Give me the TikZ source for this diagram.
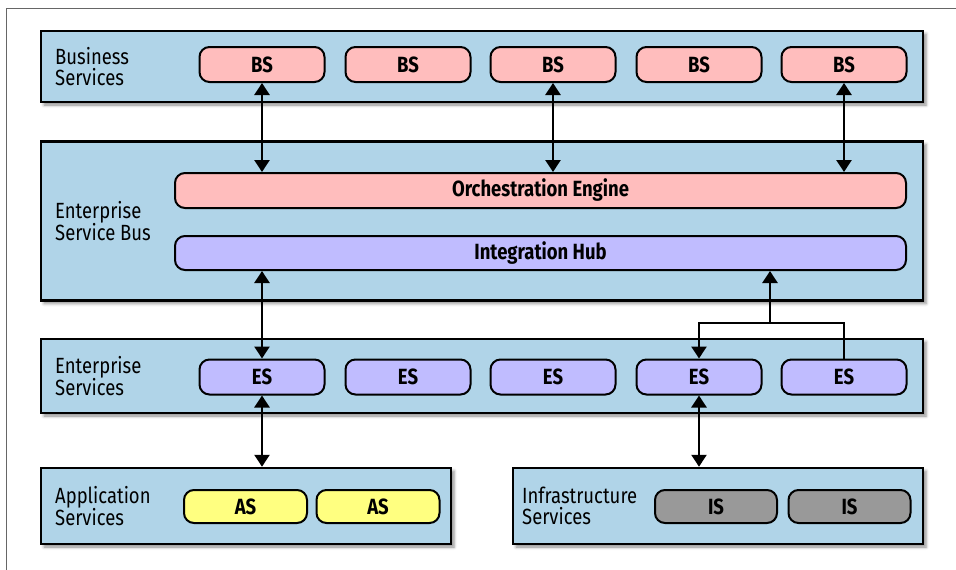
\documentclass[tikz,border=0pt]{standalone}
\usepackage{fontspec}
\setmainfont{Fira Sans}[FakeStretch=0.84]
\usetikzlibrary{arrows.meta,positioning,shadows.blur}

\definecolor{layerblue}{RGB}{176,212,232}
\definecolor{bspink}{RGB}{255,189,189}
\definecolor{eslilac}{RGB}{192,188,255}
\definecolor{asyellow}{RGB}{255,255,128}
\definecolor{isgray}{RGB}{153,153,153}

\begin{document}
\begin{tikzpicture}[
  x=1pt, y=-1pt,
  layer/.style={draw, line width=2.5pt, fill=layerblue, inner sep=0pt,
    blur shadow={shadow xshift=3pt, shadow yshift=-3pt, shadow blur radius=3pt, shadow opacity=45}},
  layertext/.style={anchor=west, align=left, inner sep=0pt, font=\fontsize{22}{21.5}\selectfont},
  svc/.style={draw, line width=2pt, rounded corners=10pt, minimum width=125pt, minimum height=35pt,
    inner sep=0pt, font=\fontsize{22}{22}\bfseries},
  bsbox/.style={svc, fill=bspink},
  esbox/.style={svc, fill=eslilac},
  asbox/.style={svc, fill=asyellow, minimum width=123pt, minimum height=33pt},
  isbox/.style={svc, fill=isgray, minimum width=122pt, minimum height=33pt},
  tip/.style={line width=2.5pt},
  arrow/.style={tip, -{Triangle[length=12pt,width=15pt]}},
  twoway/.style={tip, {Triangle[length=12pt,width=15pt]}-{Triangle[length=12pt,width=15pt]}},
  frame/.style={draw=black!60, line width=1pt}
]
\useasboundingbox (0,0) rectangle (956,570);
\draw[frame] (6,570) -- (6,8.5) -- (956,8.5);

% layers
\node[layer, minimum width=882pt, minimum height=71pt] (bsl) at (482,66.5) {};
\node[layer, minimum width=882pt, minimum height=159pt] (esb) at (482,221) {};
\node[layer, minimum width=882pt, minimum height=74pt] (esl) at (482,376) {};
\node[layer, minimum width=410pt, minimum height=76pt] (asl) at (246,506) {};
\node[layer, minimum width=410pt, minimum height=76pt] (isl) at (718,506) {};

\node[layertext] (bstext) at (55,66.5) {Business\\Services};
\node[layertext] (esbtext) at (55,221) {Enterprise\\Service Bus};
\node[layertext] (estext) at (55,376) {Enterprise\\Services};
\node[layertext] (astext) at (55,506) {Application\\Services};
\node[layertext] (istext) at (522,506) {Infrastructure\\Services};

% services
\foreach \i/\x in {1/262,2/408,3/553,4/699,5/844} {
  \node[bsbox] (bs\i) at (\x,64.5) {BS};
  \node[esbox] (es\i) at (\x,377) {ES};
}
\node[svc, fill=bspink, minimum width=731pt] (oe) at (540.5,190.5) {Orchestration Engine};
\node[svc, fill=eslilac, minimum width=731pt, minimum height=34pt] (ih) at (540.5,253) {Integration Hub};
\node[asbox] (as1) at (245.5,506.5) {AS};
\node[asbox] (as2) at (378,506.5) {AS};
\node[isbox] (is1) at (716,506.5) {IS};
\node[isbox] (is2) at (849.5,506.5) {IS};

% connectors
\draw[twoway] (bs1) -- (bs1 |- oe.north);
\draw[twoway] (bs3) -- (bs3 |- oe.north);
\draw[twoway] (bs5) -- (bs5 |- oe.north);
\draw[twoway] (es1) -- (es1 |- ih.south);
\coordinate (join) at (770,323);
\draw[tip] (es5.north) |- (join);
\draw[arrow] (join) -| (es4.north);
\draw[arrow] (join) -- (join |- ih.south);
\draw[twoway] (es1) -- (es1 |- asl.north);
\draw[twoway] (es4) -- (es4 |- isl.north);
\end{tikzpicture}
\end{document}
